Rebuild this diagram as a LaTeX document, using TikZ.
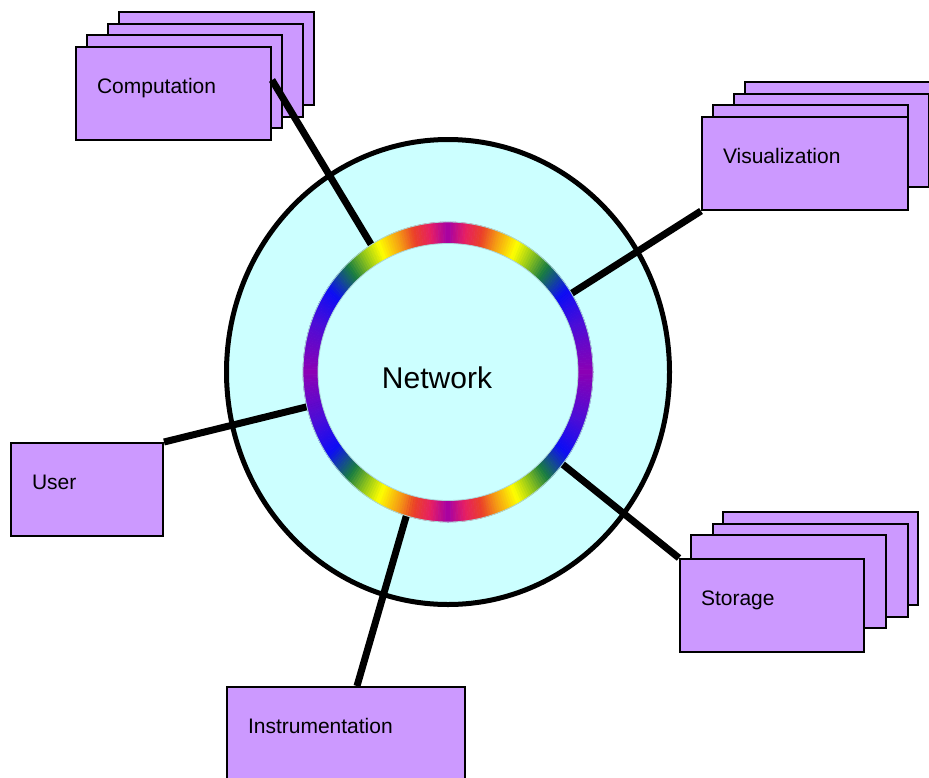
\documentclass[tikz,border=0pt]{standalone}
\usepackage{fontspec}
\setmainfont{Liberation Sans}
\usetikzlibrary{shapes.geometric}
\definecolor{boxpurple}{RGB}{204,153,255}
\definecolor{netcyan}{RGB}{204,255,255}
\definecolor{rimgray}{RGB}{170,212,215}
% colours of the ring, from the side (0) to the top (90)
\definecolor{hueA}{RGB}{140,0,180}
\definecolor{hueB}{RGB}{75,12,215}
\definecolor{hueC}{RGB}{12,12,245}
\definecolor{hueD}{RGB}{25,125,65}
\definecolor{hueE}{RGB}{150,200,25}
\definecolor{hueF}{RGB}{255,255,0}
\definecolor{hueG}{RGB}{245,150,20}
\definecolor{hueH}{RGB}{235,65,40}
\definecolor{hueI}{RGB}{230,30,100}
\definecolor{hueJ}{RGB}{165,0,165}

\begin{document}
\begin{tikzpicture}[x=1pt,y=-1pt,
    sheet/.style={draw,fill=boxpurple,line width=2pt,anchor=north west,
        minimum width=195pt,minimum height=93pt,inner sep=0pt},
    unit/.style={draw,fill=boxpurple,line width=2pt,anchor=north west,
        inner xsep=21pt,inner ysep=0pt,align=left,text height=15pt,text depth=15pt,
        minimum height=93pt,font=\fontsize{21}{25}\selectfont},
    link/.style={line width=7pt}]
    \useasboundingbox (0,0) rectangle (929,777);

    % the network
    \node[ellipse,draw,fill=netcyan,line width=5pt,inner sep=0pt,
        minimum width=443pt,minimum height=465pt] (lan) at (448,372) {};

    % stacks behind the front boxes
    \node[sheet] (comp4) at (118,11) {};
    \node[sheet] (comp3) at (107,23) {};
    \node[sheet] (comp2) at (86,34) {};
    \node[sheet] (vis4) at (744,81) {};
    \node[sheet] (vis3) at (733,93) {};
    \node[sheet] (vis2) at (712,104) {};
    \node[sheet] (stor4) at (722,511) {};
    \node[sheet] (stor3) at (712,523) {};
    \node[sheet] (stor2) at (690,534) {};

    % front boxes
    \node[unit,text width=153pt] (comp) at (75,46) {Computation};
    \node[unit,text width=164pt] (vis) at (701,116) {Visualization};
    \node[unit,text width=142pt] (stor) at (679,558) {Storage};
    \node[unit,text width=110pt] (user) at (10,442) {User};
    \node[unit,text width=196pt] (inst) at (226,686) {Instrumentation};

    % links to the network
    \draw[link] ([yshift=-34pt]comp.north east) -- (lan.center);
    \draw[link] (vis.south west) -- (lan.center);
    \draw[link] (user.north east) -- (lan.center);
    \draw[link] (stor.north west) -- (lan.center);
    \draw[link] ([xshift=11pt]inst.north) -- (lan.center);

    % rainbow ring
    \begin{scope}[shift={(lan.center)}]
        \foreach \ta/\tb/\ca/\cb in {0/20/hueA/hueB,20/34/hueB/hueC,34/46/hueC/hueD,
                46/54/hueD/hueE,54/61/hueE/hueF,61/70/hueF/hueG,70/76/hueG/hueH,
                76/83/hueH/hueI,83/90/hueI/hueJ}{
            \pgfmathtruncatemacro{\tz}{\tb-1}
            \foreach \a in {\ta,...,\tz}{
                \pgfmathtruncatemacro{\p}{100*(\a+0.5-\ta)/(\tb-\ta)}
                \colorlet{hoop}{\cb!\p!\ca}
                \foreach \u in {\a,179-\a,180+\a,359-\a}{
                    \pgfmathsetmacro{\s}{\u}
                    \pgfmathsetmacro{\e}{\u+1}
                    \fill[hoop,draw=hoop,line width=0.5pt] (\s:145 and 150) -- (\e:145 and 150)
                        -- (\e:130 and 128.5) -- (\s:130 and 128.5) -- cycle;
                }
            }
        }
        \fill[netcyan] (0,0) ellipse [x radius=130,y radius=128.5];
        \draw[rimgray,line width=0.8pt] (0,0) ellipse [x radius=145,y radius=150];
        \draw[rimgray,line width=0.8pt] (0,0) ellipse [x radius=130,y radius=128.5];
    \end{scope}

    \node[font=\fontsize{30}{36}\selectfont] (nettag) at (437,378) {Network};
\end{tikzpicture}
\end{document}
